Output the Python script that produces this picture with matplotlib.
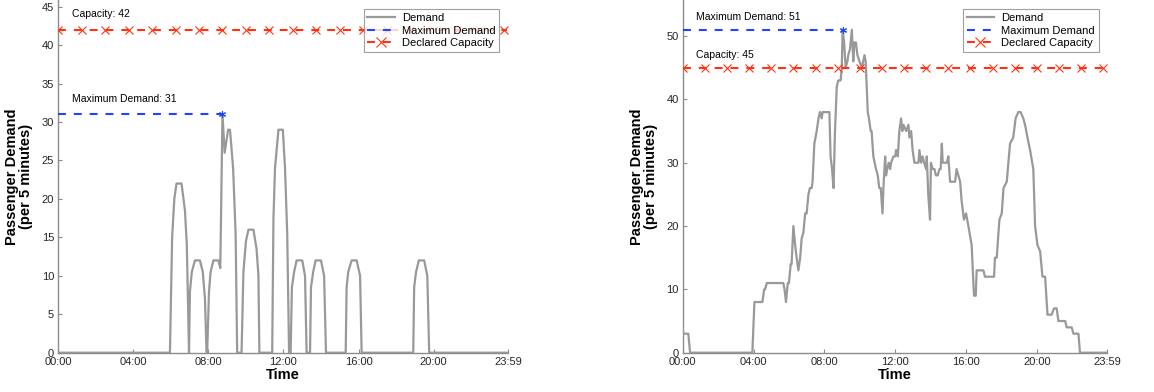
import numpy as np
import matplotlib
matplotlib.use('Agg')
import matplotlib.pyplot as plt

plt.rcParams['font.family'] = ['Liberation Sans', 'DejaVu Sans']

# time in minutes after midnight, demand per 5 minutes
left_times = [0, 357, 364, 371, 378, 394, 405, 411, 418,
              421, 427, 437, 453, 462, 469, 474,
              476, 482, 487, 496, 512, 518, 525, 532, 543, 549, 559, 567, 572,
              586, 592, 600, 608, 624, 634, 640, 643,
              684, 688, 693, 704, 718, 725, 732, 738,
              743, 747, 754, 762, 780, 789, 794,
              805, 808, 815, 823, 840, 850, 856,
              919, 922, 927, 938, 954, 965, 970,
              1135, 1138, 1144, 1153, 1170, 1180, 1186, 1439]
left_demand = [0, 0, 15, 20, 22, 22, 18.5, 14, 0,
               8, 10.5, 12, 12, 10.5, 7, 0,
               0, 8, 10.5, 12, 12, 11, 31, 26, 29, 29, 24, 15.5, 0,
               0, 10.5, 14.5, 16, 16, 13.5, 10, 0,
               0, 17.5, 24, 29, 29, 24, 15.5, 0,
               0, 8.5, 10.5, 12, 12, 10, 0,
               0, 8.5, 10.5, 12, 12, 10, 0,
               0, 8.5, 10.5, 12, 12, 10, 0,
               0, 8.5, 10.5, 12, 12, 10, 0, 0]
left_capacity = 42
left_max = 31
left_max_time = 525

right_times = [0, 2, 19, 25, 236, 243, 270, 276, 279, 285, 341, 345, 350, 356, 360,
               366, 369, 375, 381, 386, 392, 398, 403, 409, 415, 420, 426, 431, 437,
               440, 446, 454, 460, 465, 471, 474, 497, 501, 506, 511, 516, 522, 527,
               535, 539, 542, 547, 552, 558, 561, 567, 573, 578, 582, 587, 592, 599,
               607, 616, 620, 627, 631, 637, 640, 646, 655, 661, 666, 671, 677, 680,
               686, 689, 693, 698, 703, 706, 714, 720, 723, 729, 734, 740, 744, 748,
               757, 765, 768, 774, 779, 785, 799, 802, 808, 813, 818, 825, 827, 832,
               838, 841, 847, 853, 858, 864, 870, 874, 878, 881, 895, 900, 906, 923,
               928, 934, 940, 945, 953, 960, 968, 979, 987, 993, 996, 1019, 1024,
               1055, 1058, 1064, 1073, 1081, 1087, 1098, 1109, 1120, 1128, 1137,
               1145, 1154, 1160, 1168, 1177, 1188, 1194, 1202, 1211, 1219, 1228,
               1236, 1250, 1258, 1267, 1273, 1296, 1301, 1318, 1324, 1341, 1346, 1439]
right_demand = [4, 3, 3, 0, 0, 8, 8, 10, 10, 11, 11, 10, 8, 11, 11,
                14, 14, 20, 17, 15, 13, 15, 18, 19, 22, 22, 25, 26, 26,
                27, 33, 35, 37, 38, 37, 38, 38, 31, 29, 26, 35, 42, 43,
                43, 45, 51, 49, 45, 46, 47, 48, 51, 46, 49, 49, 47, 46,
                45, 47, 46, 38, 37, 35, 35, 31, 29, 28, 26, 26, 22, 26,
                31, 28, 29, 30, 29, 30, 31, 31, 32, 31, 35, 37, 35, 36,
                35, 36, 34, 35, 32, 30, 30, 32, 30, 31, 30, 29, 31, 25,
                21, 30, 29, 29, 28, 28, 29, 29, 33, 30, 30, 31, 27, 27,
                29, 28, 27, 24, 21, 22, 20, 17, 9, 9, 13, 13, 12,
                12, 15, 15, 21, 22, 26, 27, 33, 34, 37, 38,
                38, 37, 36, 34, 32, 29, 20, 17, 16, 12, 12,
                6, 6, 7, 7, 5, 5, 4, 4, 3, 3, 0, 0]
right_capacity = 45
right_max = 51
right_max_time = 542

tick_pos = [0, 240, 480, 720, 960, 1200, 1439]
tick_labels = ['00:00', '04:00', '08:00', '12:00', '16:00', '20:00', '23:59']

GREY = '#999999'
BLUE = '#1f45ff'
RED = '#ff3311'
AXC = '#8c8c8c'


def draw_panel(ax, times, demand, capacity, max_val, max_time, ytop, yticks):
    ax.plot(times, demand, color=GREY, lw=1.6, label='Demand', zorder=3)
    ax.plot([0, max_time], [max_val, max_val], color=BLUE, lw=1.5,
            dashes=(3.8, 3.8), label='Maximum Demand', zorder=4)
    ax.plot([max_time], [max_val], marker=(6, 2, 0), color=BLUE, ms=5,
            mew=0.8, zorder=5)
    cap_t = np.arange(0, 1440, 5)
    ax.plot(cap_t, np.full(len(cap_t), capacity), color=RED, lw=1.5,
            dashes=(3.8, 3.8), marker='x', ms=5.5, mew=0.8, markevery=15,
            label='Declared Capacity', zorder=4)
    ax.text(45, max_val + 2, 'Maximum Demand: %d' % max_val, fontsize=7.5,
            va='center', ha='left')
    ax.text(45, capacity + 2, 'Capacity: %d' % capacity, fontsize=7.5,
            va='center', ha='left')

    ax.set_xlim(0, 1439)
    ax.set_ylim(0, ytop)
    ax.set_xticks(tick_pos)
    ax.set_xticklabels(tick_labels)
    ax.set_yticks(yticks)
    ax.tick_params(direction='in', length=3, width=0.8, color=AXC,
                   labelsize=8, labelcolor='#262626', pad=3)
    for s in ['top', 'right']:
        ax.spines[s].set_visible(False)
    for s in ['left', 'bottom']:
        ax.spines[s].set_color(AXC)
        ax.spines[s].set_linewidth(1.0)
    ax.set_xlabel('Time', fontsize=10.5, fontweight='bold', labelpad=1)
    ax.set_ylabel('Passenger Demand\n(per 5 minutes)', fontsize=10.5,
                  fontweight='bold', labelpad=6, linespacing=1.0)
    leg = ax.legend(loc='upper right', fontsize=8, frameon=True, fancybox=False,
                    borderaxespad=0.8, handlelength=2.5, markerscale=1.4,
                    borderpad=0.35, labelspacing=0.25, handletextpad=0.6)
    leg.get_frame().set_edgecolor('#888888')
    leg.get_frame().set_linewidth(0.8)


fig = plt.figure(figsize=(11.54, 3.92), dpi=100)
ax1 = fig.add_axes([58.3 / 1154, 0.1003, 450 / 1154, 0.8997])
ax2 = fig.add_axes([682.7 / 1154, 0.1003, 424.7 / 1154, 0.8997])

draw_panel(ax1, left_times, left_demand, left_capacity, left_max, left_max_time,
           45.87, np.arange(0, 46, 5))
draw_panel(ax2, right_times, right_demand, right_capacity, right_max, right_max_time,
           55.7, np.arange(0, 51, 10))

fig.savefig('out.png', dpi=100)
